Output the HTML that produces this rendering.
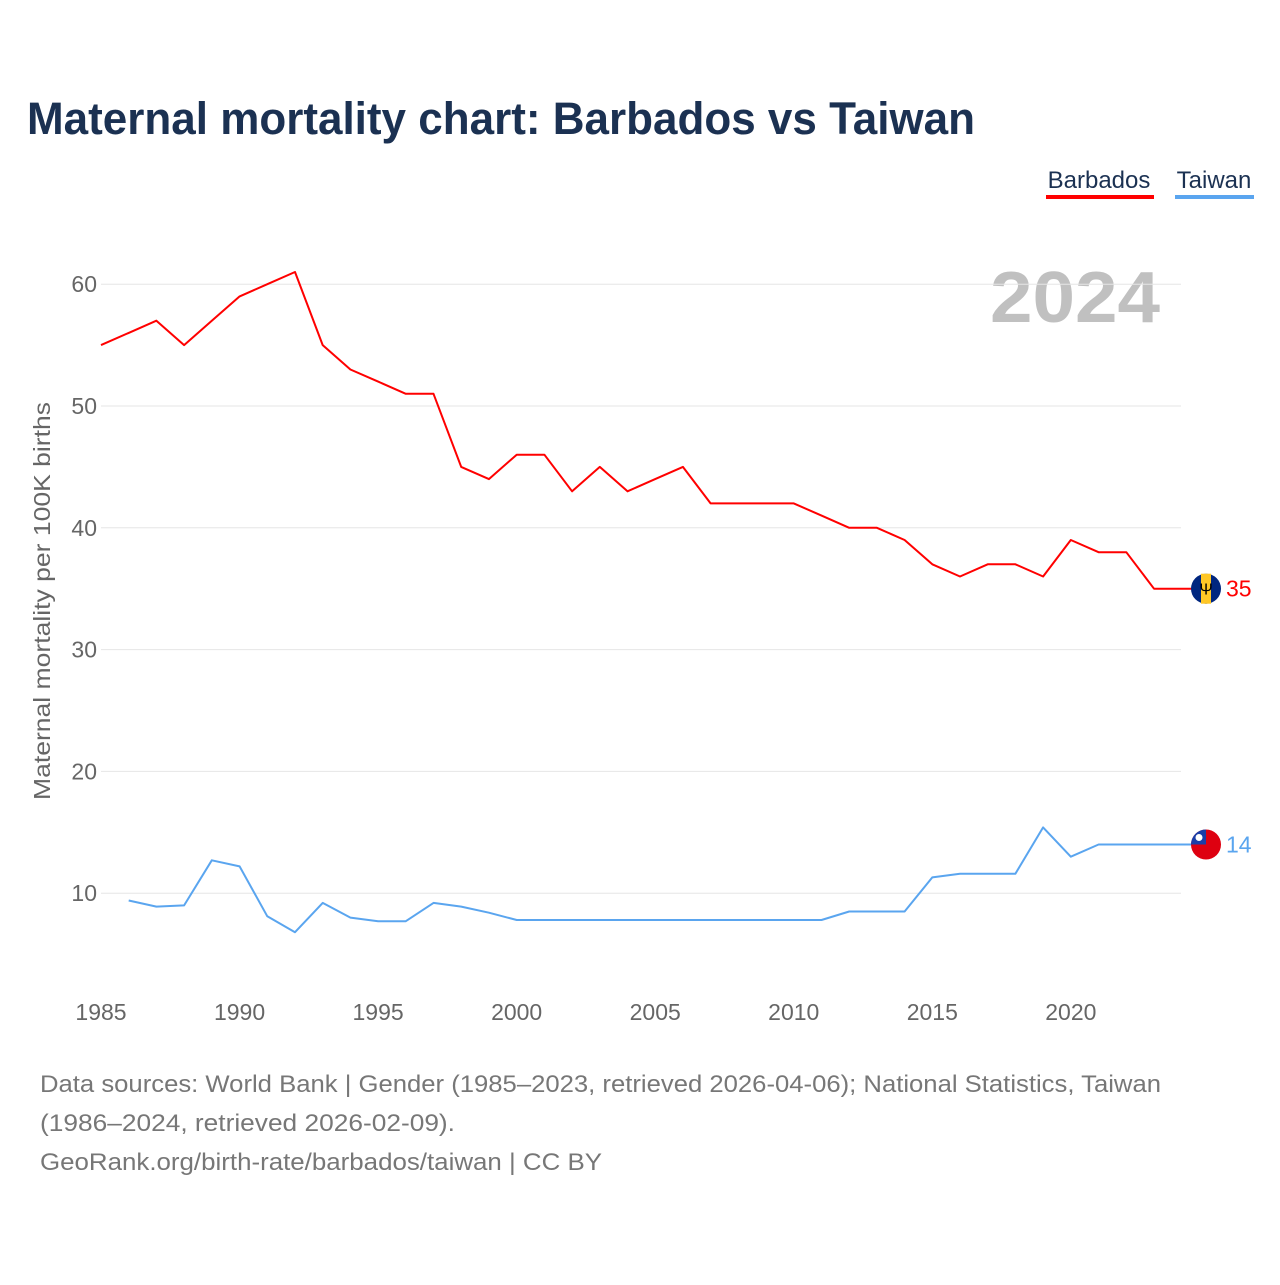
<!DOCTYPE html>
<html><head><meta charset="utf-8"><style>
body{margin:0;background:#fff;width:1280px;height:1280px;overflow:hidden;font-family:"Liberation Sans",sans-serif}
</style></head><body>
<svg width="1280" height="1280" xmlns="http://www.w3.org/2000/svg">
<text x="27" y="134" font-size="45" font-weight="bold" fill="#1b3152" textLength="948" lengthAdjust="spacingAndGlyphs">Maternal mortality chart: Barbados vs Taiwan</text>
<g><text x="1099" y="188" font-size="24" fill="#1b3152" text-anchor="middle">Barbados</text><rect x="1046" y="195" width="108" height="4" fill="#ff0000"/></g>
<g><text x="1214" y="188" font-size="24" fill="#1b3152" text-anchor="middle">Taiwan</text><rect x="1175" y="195" width="79" height="4" fill="#5aa5ef"/></g>
<text x="1160" y="322" font-size="72" font-weight="bold" fill="#c0c0c0" text-anchor="end" textLength="170" lengthAdjust="spacingAndGlyphs">2024</text>
<g id="grid"></g><g id="axes"></g><g id="series"></g>
<text transform="translate(50,601) rotate(-90)" font-size="23" fill="#666" text-anchor="middle" textLength="398" lengthAdjust="spacingAndGlyphs">Maternal mortality per 100K births</text>
<g font-size="24" fill="#777">
<text x="40" y="1092" textLength="1121" lengthAdjust="spacingAndGlyphs">Data sources: World Bank | Gender (1985–2023, retrieved 2026-04-06); National Statistics, Taiwan</text>
<text x="40" y="1131" textLength="415" lengthAdjust="spacingAndGlyphs">(1986–2024, retrieved 2026-02-09).</text>
<text x="40" y="1170" textLength="562" lengthAdjust="spacingAndGlyphs">GeoRank.org/birth-rate/barbados/taiwan | CC BY</text>
</g>
</svg>
<script>
const yTicks=[10,20,30,40,50,60];
const xTicks=[1985,1990,1995,2000,2005,2010,2015,2020];
const barbadosYears=[1985,1986,1987,1988,1989,1990,1991,1992,1993,1994,1995,1996,1997,1998,1999,2000,2001,2002,2003,2004,2005,2006,2007,2008,2009,2010,2011,2012,2013,2014,2015,2016,2017,2018,2019,2020,2021,2022,2023,2024];
const barbadosValues=[55,56,57,55,57,59,60,61,55,53,52,51,51,45,44,46,46,43,45,43,44,45,42,42,42,42,41,40,40,39,37,36,37,37,36,39,38,38,35,35];
const taiwanYears=[1986,1987,1988,1989,1990,1991,1992,1993,1994,1995,1996,1997,1998,1999,2000,2001,2002,2003,2004,2005,2006,2007,2008,2009,2010,2011,2012,2013,2014,2015,2016,2017,2018,2019,2020,2021,2022,2023,2024];
const taiwanValues=[9.4,8.9,9.0,12.7,12.2,8.1,6.8,9.2,8.0,7.7,7.7,9.2,8.9,8.4,7.8,7.8,7.8,7.8,7.8,7.8,7.8,7.8,7.8,7.8,7.8,7.8,8.5,8.5,8.5,11.3,11.6,11.6,11.6,15.4,13.0,14.0,14.0,14.0,14.0];
const NS="http://www.w3.org/2000/svg";
const xS=y=>101+(y-1985)*27.71;
const yS=v=>1015-v*12.18;
function mk(t,a,p){const e=document.createElementNS(NS,t);for(const k in a)e.setAttribute(k,a[k]);p.appendChild(e);return e;}
const grid=document.getElementById('grid'),axes=document.getElementById('axes'),ser=document.getElementById('series');
yTicks.forEach(v=>{
 const l=mk('line',{x1:101,x2:1181,y1:yS(v),y2:yS(v),stroke:'#e6e6e6','stroke-width':1},grid);
 
 
 const t=mk('text',{x:97,y:yS(v)+8,'font-size':23,fill:'#666','text-anchor':'end'},axes);t.textContent=v;
 
 
});
xTicks.forEach(y=>{
 const t=mk('text',{x:xS(y),y:1020,'font-size':23,fill:'#666','text-anchor':'middle'},axes);t.textContent=y;
 
 
});
function line(ys,vs,c,name){
 let d=ys.map((y,i)=>(i?'L':'M')+xS(y).toFixed(1)+','+yS(vs[i]).toFixed(1)).join('');
 const last=vs[vs.length-1];
 d+='L1205,'+yS(last).toFixed(1);
 const p=mk('path',{d:d,fill:'none',stroke:c,'stroke-width':2,'stroke-linejoin':'round'},ser);
 
 
 const cy=yS(last);
 const g=mk('g',{},ser);
 
 
 return {cy,g,last};
}
const b=line(barbadosYears,barbadosValues,'#ff0000','barbados');
mk('circle',{cx:1206,cy:b.cy,r:15,fill:'#00267f'},b.g);
mk('rect',{x:1201,y:b.cy-15,width:10,height:30,fill:'#ffc726'},b.g);
mk('text',{x:1206,y:b.cy+6,'font-size':16,'text-anchor':'middle',fill:'#000'},b.g).textContent='Ψ';
const bt=mk('text',{x:1226,y:b.cy+8,'font-size':23,fill:'#ff0000'},ser);bt.textContent=b.last;


const t=line(taiwanYears,taiwanValues,'#5aa5ef','taiwan');
mk('circle',{cx:1206,cy:t.cy,r:15,fill:'#de0010'},t.g);
mk('path',{d:`M1191,${t.cy} A15,15 0 0 1 1206,${t.cy-15} L1206,${t.cy} Z`,fill:'#1a3ea8'},t.g);
mk('circle',{cx:1199,cy:t.cy-7,r:3.5,fill:'#fff'},t.g);
const tt=mk('text',{x:1226,y:t.cy+8,'font-size':23,fill:'#5aa5ef'},ser);tt.textContent=t.last;


</script>
</body></html>
